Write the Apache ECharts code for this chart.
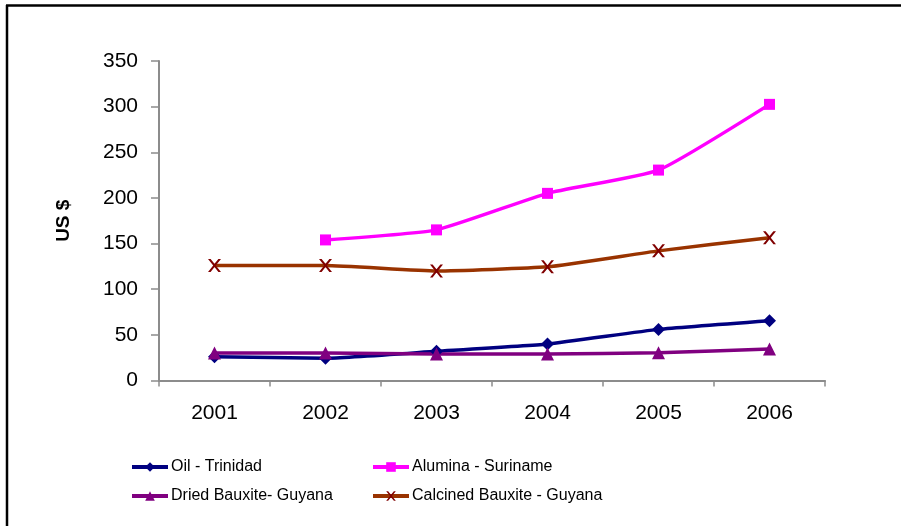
<!DOCTYPE html>
<html>
<head>
<meta charset="utf-8">
<script src="https://cdn.jsdelivr.net/npm/echarts@6/dist/echarts.min.js"></script>
<style>
  html, body { margin: 0; padding: 0; background: #fff; }
  #chart { width: 901px; height: 526px; }
</style>
</head>
<body>
<div id="chart"></div>
<script>
// Export prices by commodity, 2001-2006 (US $)
const years = ['2001', '2002', '2003', '2004', '2005', '2006'];
const oilTrinidad = [26, 24.5, 32, 40, 56, 65.5];
const aluminaSuriname = [null, 154, 165, 205, 230.5, 302.5];
const driedBauxiteGuyana = [30, 30, 29, 29, 30.5, 34.5];
const calcinedBauxiteGuyana = [126, 126, 120, 124.5, 142, 156.5];
const yTicks = [0, 50, 100, 150, 200, 250, 300, 350];

const font = '"Liberation Sans", Arial, sans-serif';

const chart = echarts.init(document.getElementById('chart'), null, { renderer: 'canvas' });

function legendAt(name, left, top) {
  return {
    data: [name], left: left, top: top, orient: 'horizontal',
    itemWidth: 36, itemHeight: 12, itemGap: 4, padding: 0,
    selectedMode: false,
    lineStyle: { width: 4 },
    textStyle: { fontFamily: font, fontSize: 16, color: '#000', padding: [0, 0, 0, -2] }
  };
}

function lineSeries(name, data, lineColor, markerColor, symbol, size) {
  return {
    name: name, type: 'line', data: data,
    smooth: 0.15, connectNulls: false,
    symbol: symbol, symbolSize: size, showSymbol: true,
    lineStyle: { color: lineColor, width: 3.5 },
    itemStyle: { color: markerColor, borderColor: markerColor, borderWidth: 0 },
    emphasis: { disabled: true },
    animation: false
  };
}

// "x" marker drawn as a path
const crossPath = 'path://M0,0 L2,0 L5,3 L8,0 L10,0 L6,4 L10,8 L8,8 L5,5 L2,8 L0,8 L4,4 Z';

const option = {
  backgroundColor: '#fff',
  animation: false,
  grid: { left: 159, right: 76, top: 61, bottom: 145.5, containLabel: false },
  xAxis: {
    type: 'category', data: years, boundaryGap: true,
    axisLine: { lineStyle: { color: '#8c8c8c', width: 2 } },
    axisTick: { show: true, alignWithLabel: false, length: 6, lineStyle: { color: '#8c8c8c', width: 1.5 } },
    axisLabel: { fontFamily: font, fontSize: 21, color: '#000', margin: 22 },
    splitLine: { show: false }
  },
  yAxis: {
    type: 'value', min: 0, max: 350, interval: 50,
    name: 'US $', nameLocation: 'middle', nameGap: 86, nameRotate: 90,
    nameTextStyle: { fontFamily: font, fontSize: 19, fontWeight: 'bold', color: '#000' },
    axisLine: { show: true, lineStyle: { color: '#8c8c8c', width: 2 } },
    axisTick: { show: true, inside: false, length: 8, lineStyle: { color: '#8c8c8c', width: 1.5 } },
    axisLabel: {
      fontFamily: font, fontSize: 21, color: '#000', margin: 21,
      formatter: v => (yTicks.indexOf(v) >= 0 ? String(v) : '')
    },
    splitLine: { show: false }
  },
  legend: [
    legendAt('Oil - Trinidad', 130, 459),
    legendAt('Alumina - Suriname', 371, 459),
    legendAt('Dried Bauxite- Guyana', 130, 488),
    legendAt('Calcined Bauxite - Guyana', 371, 488)
  ],
  series: [
    lineSeries('Oil - Trinidad', oilTrinidad, '#000080', '#000080', 'diamond', 13),
    lineSeries('Alumina - Suriname', aluminaSuriname, '#ff00ff', '#ff00ff', 'rect', 11),
    lineSeries('Dried Bauxite- Guyana', driedBauxiteGuyana, '#800080', '#800080', 'triangle', 13),
    lineSeries('Calcined Bauxite - Guyana', calcinedBauxiteGuyana, '#993300', '#800000', crossPath, 13)
  ],
  graphic: [
    { type: 'line', shape: { x1: 6, y1: 5.5, x2: 901, y2: 5.5 }, style: { stroke: '#000', lineWidth: 2.5 }, silent: true },
    { type: 'line', shape: { x1: 7, y1: 5, x2: 7, y2: 526 }, style: { stroke: '#000', lineWidth: 2.5 }, silent: true }
  ]
};

chart.setOption(option);
</script>
</body>
</html>
